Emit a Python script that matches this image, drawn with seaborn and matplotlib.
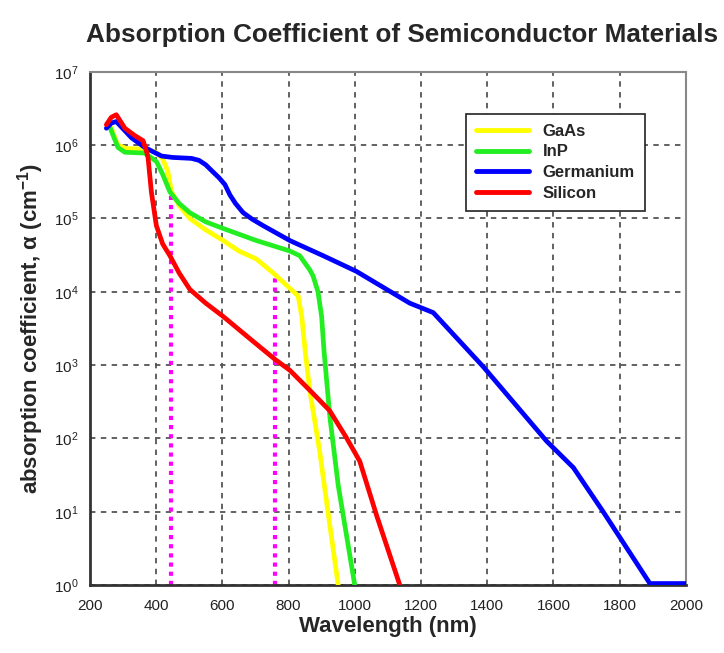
import numpy as np
import pandas as pd
import seaborn as sns
import matplotlib
matplotlib.use("Agg")
import matplotlib.pyplot as plt
from matplotlib.ticker import (MultipleLocator, FixedLocator, NullFormatter,
                               LogFormatterSciNotation)

# ---- data ----
gaas_nm = [255, 265, 285, 310, 370, 400, 420, 435, 447, 470, 502, 550, 603, 650,
           703, 754, 784, 829, 840, 850, 864, 894, 922, 950]
gaas_val = [2.0e6, 1.7e6, 1.0e6, 9.0e5, 8.8e5, 8.0e5, 6.5e5, 4.5e5, 2.3e5, 1.5e5,
            1.0e5, 7.0e4, 5.0e4, 3.6e4, 2.8e4, 1.8e4, 1.35e4, 8.8e3, 4.6e3, 1.6e3,
            455, 67, 8, 1]

inp_nm = [255, 262, 285, 306, 366, 401, 420, 442, 470, 502, 550, 603, 703, 804,
          834, 864, 874, 889, 900, 907, 925, 950, 975, 1000]
inp_val = [1.9e6, 1.7e6, 9.3e5, 8.0e5, 7.8e5, 6.0e5, 4.0e5, 2.3e5, 1.6e5, 1.2e5,
           9.0e4, 7.3e4, 5.0e4, 3.6e4, 3.1e4, 2.0e4, 1.65e4, 1.0e4, 4.6e3, 1.6e3,
           194, 23, 4.8, 1]

ge_nm = [250, 265, 280, 326, 366, 417, 450, 507, 530, 550, 570, 590, 608, 623,
         640, 663, 690, 723, 804, 905, 1005, 1166, 1237, 1388, 1579, 1660, 1750,
         1891, 2000]
ge_val = [1.7e6, 2.0e6, 2.1e6, 1.26e6, 9.3e5, 7.1e5, 6.8e5, 6.6e5, 6.2e5, 5.4e5,
          4.4e5, 3.6e5, 2.9e5, 2.1e5, 1.6e5, 1.2e5, 9.8e4, 8.0e4, 5.0e4, 3.1e4,
          1.9e4, 7.0e3, 5.2e3, 950, 92, 40, 10, 1.05, 1.05]

si_nm = [250, 265, 280, 306, 336, 361, 371, 376, 386, 401, 420, 442, 470, 502,
         550, 603, 683, 759, 804, 864, 924, 975, 1015, 1066, 1136]
si_val = [1.9e6, 2.4e6, 2.6e6, 1.7e6, 1.35e6, 1.15e6, 8.3e5, 6.7e5, 2.3e5, 8.0e4,
          4.5e4, 3.1e4, 1.8e4, 1.08e4, 7.0e3, 4.6e3, 2.3e3, 1.2e3, 850, 455, 240,
          102, 49, 8.9, 1]

materials = ["GaAs", "InP", "Germanium", "Silicon"]
colors = ["#FFFF00", "#22EE22", "#0000FF", "#FF0000"]

marker_nm = [445, 760]
marker_top = [2.3e5, 1.65e4]

x_ticks = [200, 400, 600, 800, 1000, 1200, 1400, 1600, 1800, 2000]
y_ticks = [1e0, 1e1, 1e2, 1e3, 1e4, 1e5, 1e6, 1e7]
title = "Absorption Coefficient of Semiconductor Materials"
xlabel = "Wavelength (nm)"
ylabel = r"absorption coefficient, $\mathbf{\alpha}$ (cm$^{\mathbf{-1}}$)"

# ---- table ----
frames = []
for name, xs, ys in [("GaAs", gaas_nm, gaas_val), ("InP", inp_nm, inp_val),
                     ("Germanium", ge_nm, ge_val), ("Silicon", si_nm, si_val)]:
    frames.append(pd.DataFrame({"nm": xs, "alpha": ys, "material": name}))
df = pd.concat(frames, ignore_index=True)

sns.set_style("white")
fam = ["Liberation Sans", "DejaVu Sans"]
plt.rcParams["font.family"] = fam
plt.rcParams["mathtext.fontset"] = "custom"
plt.rcParams["mathtext.rm"] = "Liberation Sans"
plt.rcParams["mathtext.bf"] = "Liberation Sans:bold"
plt.rcParams["mathtext.it"] = "Liberation Sans:italic"

fig = plt.figure(figsize=(7.24, 6.53), dpi=100)
ax = fig.add_axes([0.124, 0.104, 0.8235, 0.786])

# magenta dotted markers
for xm, top in zip(marker_nm, marker_top):
    ax.plot([xm, xm], [1, top], color="#FF00FF", linestyle=(0, (1, 1.2)),
            linewidth=3, zorder=2)

sns.lineplot(data=df, x="nm", y="alpha", hue="material", hue_order=materials,
             palette=colors, sort=False, estimator=None, linewidth=3.4, ax=ax,
             zorder=3)

ax.set_yscale("log")
ax.set_xlim(200, 2000)
ax.set_ylim(1, 1e7)
ax.xaxis.set_major_locator(FixedLocator(x_ticks))
ax.xaxis.set_minor_locator(MultipleLocator(50))
ax.xaxis.set_minor_formatter(NullFormatter())
ax.yaxis.set_major_locator(FixedLocator(y_ticks))
ax.yaxis.set_major_formatter(LogFormatterSciNotation())
minor_y = [m * 10.0 ** d for d in range(0, 7) for m in range(2, 10)]
ax.yaxis.set_minor_locator(FixedLocator(minor_y))
ax.yaxis.set_minor_formatter(NullFormatter())

ax.grid(True, which="major", color="#555555", linestyle=(0, (3, 3)), linewidth=1.3)
ax.set_axisbelow(True)

ax.tick_params(axis="both", which="major", direction="in", length=6, width=1.2,
               color="#333333", labelsize=11, labelcolor="#222222")
ax.tick_params(axis="both", which="minor", direction="in", length=3, width=0.8,
               color="#555555")
ax.tick_params(axis="x", pad=10)
ax.tick_params(axis="y", pad=8)

for side in ["left", "bottom"]:
    ax.spines[side].set_color("#333333")
    ax.spines[side].set_linewidth(2)
for side in ["top", "right"]:
    ax.spines[side].set_color("#888888")
    ax.spines[side].set_linewidth(1.5)

ax.set_xlabel(xlabel, fontsize=16, fontweight="bold", labelpad=2)
ax.set_ylabel(ylabel, fontsize=16, fontweight="bold", labelpad=6)

fig.text(0.555, 0.947, title, ha="center", va="center", fontsize=18.8,
         fontweight="bold")

handles, labels = ax.get_legend_handles_labels()
leg = ax.legend(handles, labels, loc="upper right", bbox_to_anchor=(0.945, 0.935),
                frameon=True, fancybox=False, edgecolor="#222222", framealpha=1,
                handlelength=3.2, borderpad=0.6, labelspacing=0.35,
                prop={"weight": "bold", "size": 12})
leg.get_frame().set_linewidth(1.2)
for line in leg.get_lines():
    line.set_linewidth(3.5)

fig.savefig("out.png", dpi=100)
